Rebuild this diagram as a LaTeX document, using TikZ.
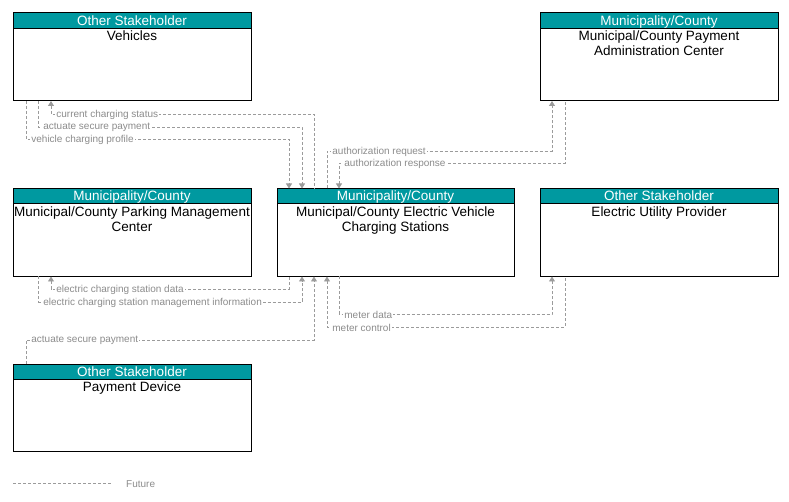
\documentclass[tikz,border=0pt]{standalone}
\usepackage{fontspec}
\setmainfont{Liberation Sans}
\usetikzlibrary{arrows.meta}
\definecolor{teal1}{RGB}{0,153,160}
\definecolor{lineg}{RGB}{155,155,155}
\definecolor{lblg}{RGB}{140,140,140}
\newcommand\ivbox[7]{%
 \node[box,minimum width=#4pt,minimum height=#5pt] (#1) at (#2,#3) {};
 \node[hdr,minimum width=#4pt] (#1h) at (#2,#3) {#6};
 \node[bodytxt] (#1t) at ([yshift=-2.5pt]#1h.south) {#7};}
\begin{document}
\begin{tikzpicture}[x=1pt,y=-1pt,
 box/.style={draw=black,line width=1pt,fill=white,inner sep=0pt,outer sep=0pt,anchor=north west},
 hdr/.style={draw=black,line width=1pt,fill=teal1,text=white,inner sep=0pt,outer sep=0pt,minimum height=15.3pt,anchor=north west,text depth=0.5pt,font=\fontsize{13.5}{15}\selectfont},
 bodytxt/.style={anchor=north,inner sep=0pt,align=center,font=\fontsize{13.5}{15}\selectfont},
 flow/.style={draw=lineg,line width=0.8pt,dash pattern=on 3pt off 2pt},
 tipA/.style={-{Triangle[length=5pt,width=6pt]}},
 tipB/.style={{Triangle[length=5pt,width=6pt]}-},
 lbl/.style={fill=white,inner sep=1pt,anchor=west,yshift=-0.8pt,text=lblg,font=\fontsize{10}{12}\selectfont}]
\useasboundingbox (0,0) rectangle (789,502);
\ivbox{veh}{13}{13}{238}{88}{Other Stakeholder}{Vehicles}
\ivbox{pay}{540}{13}{238}{88}{Municipality/County}{Municipal/County Payment\\Administration Center}
\ivbox{park}{13}{188.5}{238}{88}{Municipality/County}{Municipal/County Parking Management\\Center}
\ivbox{ev}{277}{188.5}{237}{88}{Municipality/County}{Municipal/County Electric Vehicle\\Charging Stations}
\ivbox{util}{540}{188.5}{238}{88}{Other Stakeholder}{Electric Utility Provider}
\ivbox{pd}{13}{364}{238}{87.5}{Other Stakeholder}{Payment Device}
% Vehicles <-> EV
\draw[flow,tipB] ([xshift=38pt]veh.south west) -- ++(0,13) node[lbl,pos=1,xshift=4pt] {current charging status} -| ([xshift=37pt]ev.north west);
\draw[flow,tipA] ([xshift=25pt]veh.south west) -- ++(0,26) node[lbl,pos=1,xshift=4pt] {actuate secure payment} -| ([xshift=25pt]ev.north west);
\draw[flow,tipA] ([xshift=13pt]veh.south west) -- ++(0,38) node[lbl,pos=1,xshift=4pt] {vehicle charging profile} -| ([xshift=12pt]ev.north west);
% EV <-> Payment admin
\draw[flow,tipA] ([xshift=50pt]ev.north west) -- ++(0,-37.5) node[lbl,pos=1,xshift=4pt] {authorization request} -| ([xshift=12pt]pay.south west);
\draw[flow,tipB] ([xshift=62pt]ev.north west) -- ++(0,-25.5) node[lbl,pos=1,xshift=4pt] {authorization response} -| ([xshift=25pt]pay.south west);
% Parking <-> EV
\draw[flow,tipB] ([xshift=38pt]park.south west) -- ++(0,12.5) node[lbl,pos=1,xshift=4pt] {electric charging station data} -| ([xshift=12pt]ev.south west);
\draw[flow,tipA] ([xshift=25pt]park.south west) -- ++(0,25.5) node[lbl,pos=1,xshift=4pt] {electric charging station management information} -| ([xshift=25pt]ev.south west);
% Payment device -> EV
\draw[flow,tipA] ([xshift=13pt]pd.north west) -- ++(0,-24) node[lbl,pos=1,xshift=4pt] {actuate secure payment} -| ([xshift=37pt]ev.south west);
% EV <-> Utility
\draw[flow,tipA] ([xshift=62pt]ev.south west) -- ++(0,37.5) node[lbl,pos=1,xshift=4pt] {meter data} -| ([xshift=12pt]util.south west);
\draw[flow,tipB] ([xshift=50pt]ev.south west) -- ++(0,50.5) node[lbl,pos=1,xshift=4pt] {meter control} -| ([xshift=25pt]util.south west);
% legend
\coordinate (lg1) at (13,483);
\coordinate (lg2) at (111,483);
\draw[flow] (lg1) -- (lg2);
\node[lbl,fill=none] (lgt) at (125,483) {Future};
\end{tikzpicture}
\end{document}
